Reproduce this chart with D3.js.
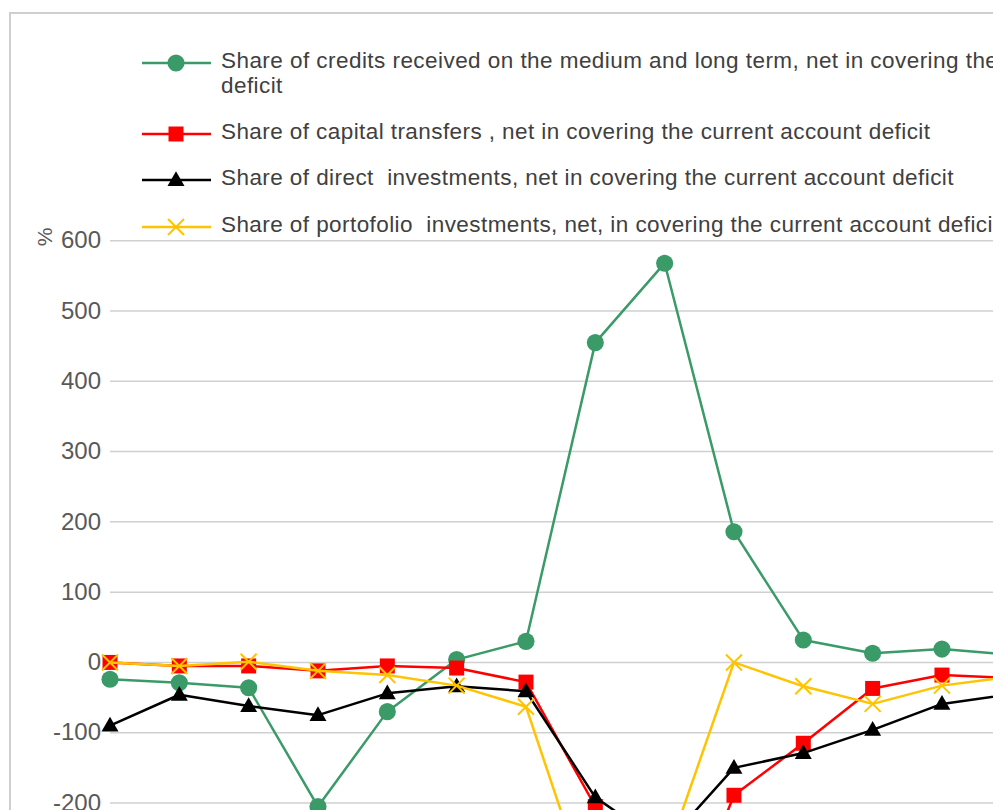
<!DOCTYPE html>
<html>
<head>
<meta charset="utf-8">
<script src="https://cdn.jsdelivr.net/npm/d3@7"></script>
<style>
  html, body { margin: 0; padding: 0; background: #fff; overflow: hidden; }
  svg { display: block; font-family: "Liberation Sans", Arial, sans-serif; }
  .legend text { white-space: pre; }
</style>
</head>
<body>
<svg id="chart" width="993" height="810"></svg>
<script>
// periods along the x axis (labels sit below the visible crop)
const periods = ['1', '2', '3', '4', '5', '6', '7', '8', '9', '10', '11', '12', '13', '14'];

// % shares
const credits = [-24, -29, -36, -205, -70, 4, 30, 455, 568, 186, 32, 13, 19, 11];
const capitalTransfers = [0, -5, -5, -12, -5, -8, -28, -205, -435, -189, -115, -37, -18, -22];
const directInvest = [-90, -46, -62, -75, -44, -34, -41, -192, -260, -150, -129, -96, -59, -45];
const portfolioInvest = [0, -5, 1, -12, -18, -33, -63, -357, -283, 0, -34, -59, -33, -20];

const gridTicks = [-400, -300, -200, -100, 0, 100, 200, 300, 400, 500, 600];
const labelTicks = [-200, -100, 0, 100, 200, 300, 400, 500, 600];

const series = [
  { name: 'Share of credits received on the medium and long term, net in covering the current account',
    line2: 'deficit', values: credits, color: '#3a9a68', marker: 'circle' },
  { name: 'Share of capital transfers , net in covering the current account deficit',
    values: capitalTransfers, color: '#ff0000', marker: 'square' },
  { name: 'Share of direct  investments, net in covering the current account deficit',
    values: directInvest, color: '#000000', marker: 'triangle' },
  { name: 'Share of portofolio  investments, net, in covering the current account deficit',
    values: portfolioInvest, color: '#ffc400', marker: 'x' }
];

const svg = d3.select('#chart');

// chart frame (extends past the crop)
svg.append('rect')
  .attr('x', 10).attr('y', 13)
  .attr('width', 1200).attr('height', 1000)
  .attr('fill', '#fff')
  .attr('stroke', '#cfcfcf')
  .attr('stroke-width', 2);

const x = d3.scalePoint()
  .domain(periods)
  .range([110, 110 + 69.33 * (periods.length - 1)]);

const y = d3.scaleLinear()
  .domain([-200, 600])
  .range([803, 240.7]);

// gridlines
svg.append('g')
  .attr('class', 'grid')
  .selectAll('line')
  .data(gridTicks)
  .enter()
  .append('line')
  .attr('x1', 110)
  .attr('x2', 1200)
  .attr('y1', d => y(d))
  .attr('y2', d => y(d))
  .attr('stroke', '#d0d0d0')
  .attr('stroke-width', 1.5);

// y axis labels
const yAxis = d3.axisLeft(y).tickValues(labelTicks).tickFormat(d => String(d)).tickSize(0).tickPadding(0);
svg.append('g')
  .attr('transform', 'translate(101,0)')
  .call(yAxis)
  .call(g => g.select('.domain').remove())
  .selectAll('text')
  .attr('font-family', '"Liberation Sans", Arial, sans-serif')
  .attr('font-size', 24)
  .attr('fill', '#595959')
  .attr('dy', '0.3em');

// axis title
svg.append('text')
  .attr('transform', 'translate(46,237) rotate(-90)')
  .attr('text-anchor', 'middle')
  .attr('dominant-baseline', 'middle')
  .attr('font-size', 21)
  .attr('fill', '#595959')
  .text('%');

const line = d3.line()
  .x((d, i) => x(periods[i]))
  .y(d => y(d));

function drawMarker(sel, type, color) {
  if (type === 'circle') {
    sel.append('path').attr('d', d3.symbol(d3.symbolCircle, 230)()).attr('fill', color);
  } else if (type === 'square') {
    sel.append('path').attr('d', d3.symbol(d3.symbolSquare, 225)()).attr('fill', color);
  } else if (type === 'triangle') {
    sel.append('path').attr('d', d3.symbol(d3.symbolTriangle, 125)()).attr('fill', color)
      .attr('transform', 'translate(0,1)');
  } else {
    sel.append('path').attr('d', 'M-8,-8L8,8M-8,8L8,-8')
      .attr('fill', 'none').attr('stroke', color).attr('stroke-width', 2);
  }
}

const plot = svg.append('g').attr('class', 'series');

series.forEach(s => {
  const g = plot.append('g');
  g.append('path')
    .datum(s.values)
    .attr('d', line)
    .attr('fill', 'none')
    .attr('stroke', s.color)
    .attr('stroke-width', 2.5)
    .attr('stroke-linejoin', 'round');

  g.selectAll('g.pt')
    .data(s.values)
    .enter()
    .append('g')
    .attr('class', 'pt')
    .attr('transform', (d, i) => `translate(${x(periods[i])},${y(d)})`)
    .each(function() { drawMarker(d3.select(this), s.marker, s.color); });
});

// legend
const legendRows = [63, 134, 180, 227];
const legend = svg.append('g').attr('class', 'legend');
const texts = [];
series.forEach((s, i) => {
  const row = legend.append('g').attr('transform', `translate(0,${legendRows[i]})`);
  row.append('line')
    .attr('x1', 142).attr('x2', 211)
    .attr('stroke', s.color).attr('stroke-width', 2.5);
  const m = row.append('g').attr('transform', 'translate(176,0)');
  drawMarker(m, s.marker, s.color);
  texts.push(row.append('text')
    .attr('x', 221).attr('y', -1)
    .attr('font-size', 22.5)
    .attr('fill', '#404040')
    .attr('dominant-baseline', 'middle')
    .text(s.name));
  if (s.line2) {
    texts.push(row.append('text')
      .attr('x', 221).attr('y', 24)
      .attr('font-size', 22.5)
      .attr('fill', '#404040')
      .attr('dominant-baseline', 'middle')
      .text(s.line2));
  }
});

// stretch legend text so the capital-transfers row spans like the original
const ref = texts[2].node().getComputedTextLength();
const k = 709 / ref;
texts.forEach(t => {
  const w = t.node().getComputedTextLength();
  t.attr('textLength', w * k).attr('lengthAdjust', 'spacing');
});
</script>
</body>
</html>
